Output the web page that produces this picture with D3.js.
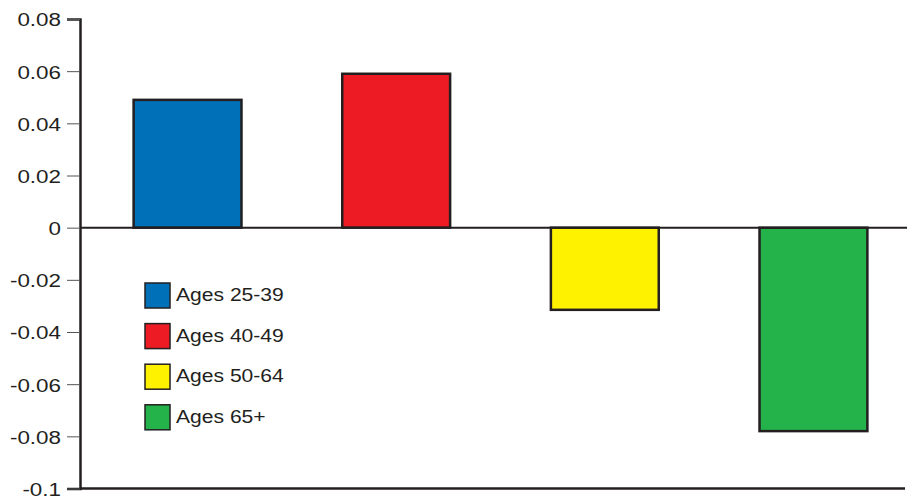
<!DOCTYPE html>
<html>
<head>
<meta charset="utf-8">
<script src="https://cdn.jsdelivr.net/npm/d3@7"></script>
<style>
  body { margin: 0; background: #fff; }
  svg { display: block; }
</style>
</head>
<body>
<div id="chart"></div>
<script>
// data
const groups = ["Ages 25-39", "Ages 40-49", "Ages 50-64", "Ages 65+"];
const values = [0.049, 0.059, -0.0315, -0.078];
const colors = ["#0070b8", "#ed1c24", "#fff200", "#24b24b"];
const yTicks = [0.08, 0.06, 0.04, 0.02, 0, -0.02, -0.04, -0.06, -0.08, -0.1];

const W = 907, H = 498;
const ink = "#231f20";

const svg = d3.select("#chart").append("svg")
    .attr("width", W)
    .attr("height", H);

const x = d3.scaleBand()
    .domain(groups)
    .range([80, 921])
    .paddingInner(0.483)
    .paddingOuter(0.257);

const y = d3.scaleLinear()
    .domain([-0.1, 0.08])
    .range([488.5, 19]);

const color = d3.scaleOrdinal().domain(groups).range(colors);

// bars
svg.append("g")
    .selectAll("rect")
    .data(groups)
    .join("rect")
    .attr("x", d => x(d))
    .attr("y", (d, i) => y(Math.max(0, values[i])))
    .attr("width", x.bandwidth())
    .attr("height", (d, i) => Math.abs(y(values[i]) - y(0)))
    .attr("fill", d => color(d))
    .attr("stroke", ink)
    .attr("stroke-width", 2.5);

// zero line
svg.append("line")
    .attr("x1", 80).attr("x2", W)
    .attr("y1", y(0)).attr("y2", y(0))
    .attr("stroke", ink)
    .attr("stroke-width", 2);

// bottom line
svg.append("line")
    .attr("x1", 80).attr("x2", 905)
    .attr("y1", y(-0.1)).attr("y2", y(-0.1))
    .attr("stroke", ink)
    .attr("stroke-width", 2.5);

// y axis
const yAxis = svg.append("g")
    .attr("transform", "translate(80,0)")
    .call(d3.axisLeft(y).tickValues(yTicks).tickSize(13).tickPadding(6)
        .tickFormat(d => d === 0 ? "0" : String(+d.toFixed(2))));

yAxis.select(".domain")
    .attr("stroke", ink)
    .attr("stroke-width", 2.5);
yAxis.selectAll(".tick line")
    .attr("stroke", "#555")
    .attr("stroke-width", 1);
yAxis.selectAll(".tick text")
    .attr("fill", ink)
    .style("font-family", "Liberation Sans, Arial, sans-serif")
    .style("font-size", "19px")
    .attr("dy", "0.36em")
    // widen glyphs a bit, keeping the right edge in place
    .attr("transform", "translate(-19,0) scale(1.18,1) translate(19,0)");

// legend
const legend = svg.append("g")
    .attr("transform", "translate(145,283)");

const item = legend.selectAll("g")
    .data(groups)
    .join("g")
    .attr("transform", (d, i) => `translate(0,${i * 40.6})`);

item.append("rect")
    .attr("width", 25)
    .attr("height", 25)
    .attr("fill", d => color(d))
    .attr("stroke", ink)
    .attr("stroke-width", 1.5);

item.append("text")
    .attr("x", 31)
    .attr("y", 18)
    .attr("fill", ink)
    .style("font-family", "Liberation Sans, Arial, sans-serif")
    .style("font-size", "19px")
    .attr("transform", "translate(31,0) scale(1.11,1) translate(-31,0)")
    .text(d => d);
</script>
</body>
</html>
